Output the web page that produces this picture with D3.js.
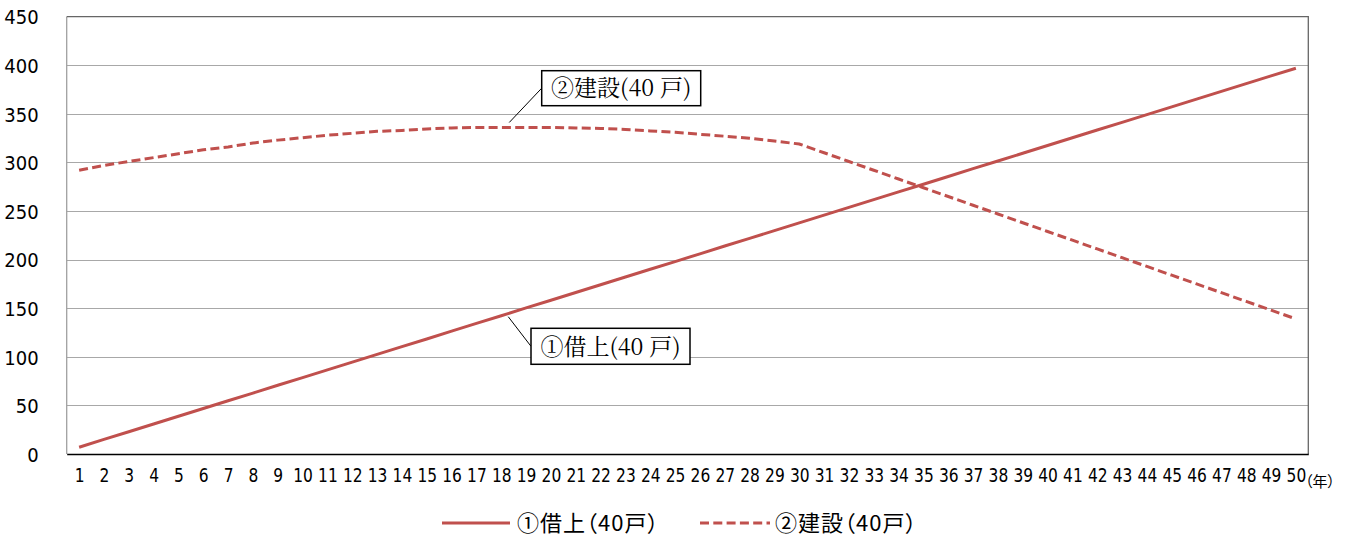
<!DOCTYPE html>
<html><head><meta charset="utf-8">
<script src="https://cdn.jsdelivr.net/npm/d3@7"></script>
<style>
body{margin:0;background:#fff;}
svg{display:block;}
.num{font-family:"Liberation Sans Narrow","DejaVu Sans Condensed","Liberation Sans",sans-serif;fill:#000;}
.jp{font-family:"Noto Sans CJK JP","Noto Sans",sans-serif;font-feature-settings:"palt";fill:#000;}
.ann{font-family:"Noto Serif CJK JP","Liberation Serif","Noto Sans CJK JP",serif;fill:#000;}
</style></head><body>
<svg id="c" width="1362" height="539"></svg>
<script>
const years = d3.range(1, 51).map(String);
const yTicks = [0, 50, 100, 150, 200, 250, 300, 350, 400, 450];
const seriesNames = ["①借上（40戸）", "②建設（40戸）"];
const annotationTexts = ["①借上(40 戸)", "②建設(40 戸)"];
const lease = [7.0, 15.0, 22.9, 30.9, 38.8, 46.8, 54.8, 62.7, 70.7, 78.6, 86.6, 94.6, 102.5, 110.5, 118.4,
  126.4, 134.4, 142.3, 150.3, 158.2, 166.2, 174.2, 182.1, 190.1, 198.0, 206.0, 214.0, 221.9, 229.9, 237.8,
  245.8, 253.8, 261.7, 269.7, 277.6, 285.6, 293.6, 301.5, 309.5, 317.4, 325.4, 333.4, 341.3, 349.3, 357.2,
  365.2, 373.2, 381.1, 389.1, 397.0];
const build = [292, 297, 301, 305, 309, 313, 316, 320, 323, 325.5, 328, 330, 332, 333, 334.5, 335.5, 336, 336, 336, 336,
  335.5, 335, 334, 332.5, 331, 329, 327, 325, 322, 319, 310, 301, 292, 283, 274, 265, 256, 247, 238, 229,
  220, 211, 202, 193, 184, 175, 166, 157, 148, 139];

const svg = d3.select("#c");
const L = 66.7, R = 1308.3, T = 16.7, B = 454;
const x = d3.scalePoint().domain(years).range([L, R]).padding(0.5);
const y = d3.scaleLinear().domain([0, 450]).range([B, T]);
const red = "#C0504D";

// gridlines
svg.append("g").selectAll("line").data(yTicks.filter(d => d > 0 && d < 450)).join("line")
  .attr("x1", L).attr("x2", R)
  .attr("y1", d => Math.round(y(d)) + 0.5).attr("y2", d => Math.round(y(d)) + 0.5)
  .attr("stroke", "#a8a8a8").attr("stroke-width", 1.2);

// plot border
svg.append("line").attr("x1", L).attr("x2", L).attr("y1", T).attr("y2", B)
  .attr("stroke", "#a0a0a0").attr("stroke-width", 1.3);
svg.append("path")
  .attr("d", `M${L},${T}H${R}V${B}`)
  .attr("fill", "none").attr("stroke", "#666").attr("stroke-width", 1.3);

// y axis
const yAxis = svg.append("g").attr("transform", `translate(${L},0)`)
  .call(d3.axisLeft(y).tickValues(yTicks).tickSize(0).tickPadding(28));
yAxis.select(".domain").remove();
yAxis.selectAll("text").attr("class", "num").style("font-size", "20px").attr("dy", "0.36em");

// x axis
const xAxis = svg.append("g").attr("transform", `translate(0,${B})`)
  .call(d3.axisBottom(x).tickSize(0).tickPadding(14));
xAxis.select(".domain").attr("stroke", "#000").attr("stroke-width", 1.5);
xAxis.selectAll("text").attr("class", "num").style("font-size", "20px")
  .attr("transform", "scale(0.86,1)");
svg.append("text").attr("class", "jp").attr("x", 1305).attr("y", 487)
  .style("font-size", "15px").text("（年）");

// lines
const line = d3.line().x((d, i) => x(years[i])).y(d => y(d));
svg.append("path").datum(lease).attr("d", line)
  .attr("fill", "none").attr("stroke", red).attr("stroke-width", 3);
svg.append("path").datum(build).attr("d", line)
  .attr("fill", "none").attr("stroke", red).attr("stroke-width", 3)
  .attr("stroke-dasharray", "9,4.3");

// annotations
function ann(px, py, bx, by, bw, bh, t) {
  svg.append("line").attr("x1", px).attr("y1", py).attr("x2", bx).attr("y2", by + bh / 2)
    .attr("stroke", "#000").attr("stroke-width", 1);
  svg.append("rect").attr("x", bx).attr("y", by).attr("width", bw).attr("height", bh)
    .attr("fill", "#fff").attr("stroke", "#000").attr("stroke-width", 1.5);
  svg.append("text").attr("class", "ann").attr("x", bx + bw / 2).attr("y", by + bh / 2).attr("dy", "0.36em")
    .attr("text-anchor", "middle").style("font-size", "23px").text(t);
}
ann(x("18") + 7, y(lease[17]) + 1, 531, 328.3, 159, 36, annotationTexts[0]);
ann(x("18") + 8, y(build[17]) - 5, 541.7, 70.7, 159, 35, annotationTexts[1]);

// legend
const lg = svg.append("g");
lg.append("line").attr("x1", 442).attr("x2", 510).attr("y1", 523).attr("y2", 523)
  .attr("stroke", red).attr("stroke-width", 3);
lg.append("text").attr("class", "jp").attr("x", 517).attr("y", 523).attr("dy", "0.36em")
  .style("font-size", "22px").style("letter-spacing", "1px").text(seriesNames[0]);
lg.append("line").attr("x1", 700).attr("x2", 770).attr("y1", 523).attr("y2", 523)
  .attr("stroke", red).attr("stroke-width", 3).attr("stroke-dasharray", "9,4.3");
lg.append("text").attr("class", "jp").attr("x", 775).attr("y", 523).attr("dy", "0.36em")
  .style("font-size", "22px").style("letter-spacing", "1px").text(seriesNames[1]);
</script></body></html>
